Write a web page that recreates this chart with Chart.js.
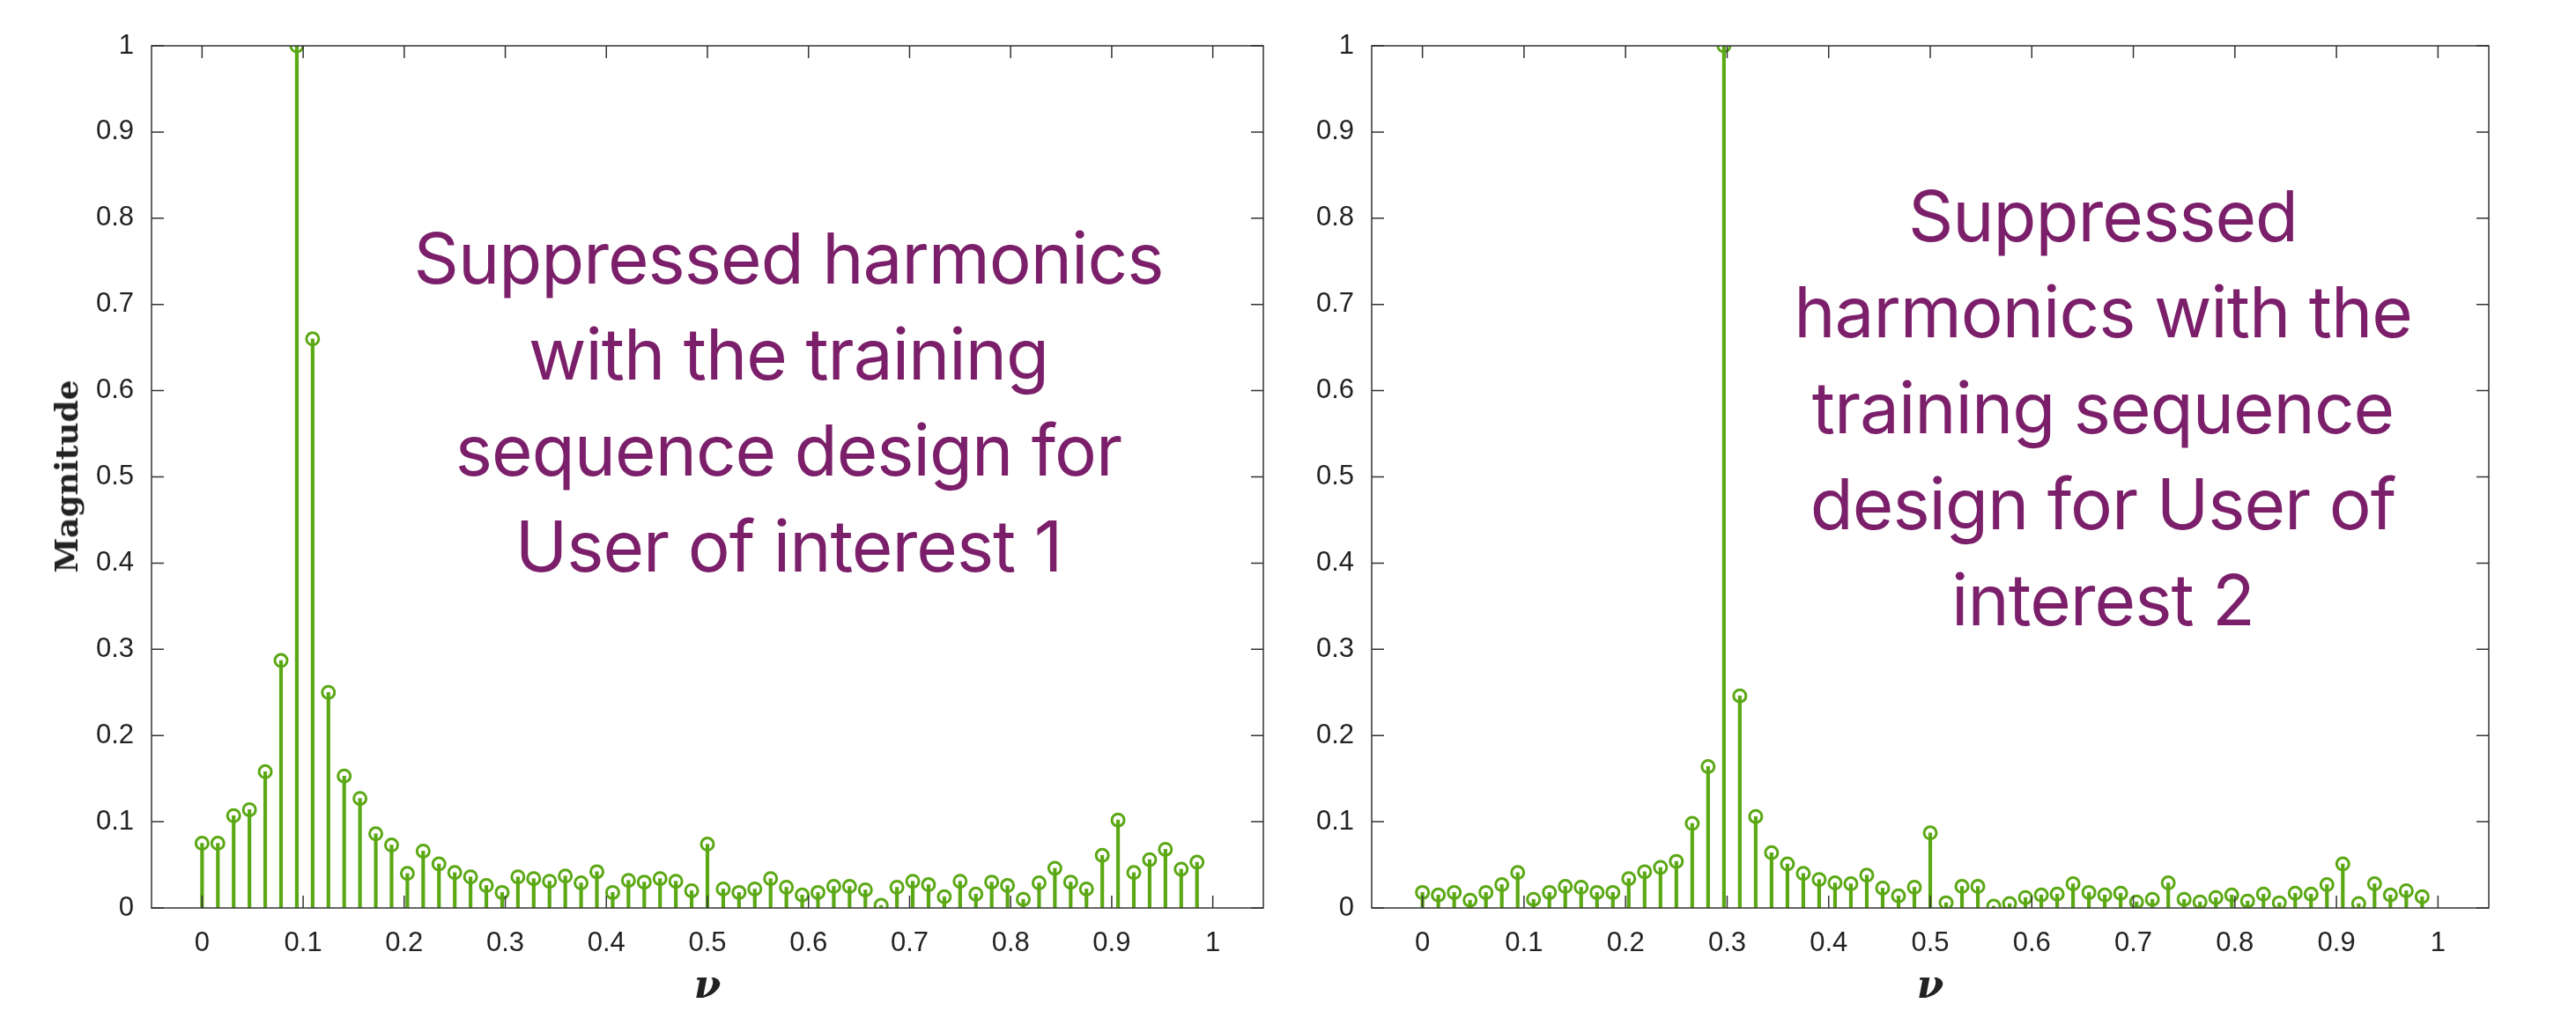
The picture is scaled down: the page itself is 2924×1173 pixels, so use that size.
<!DOCTYPE html>
<html><head><meta charset="utf-8">
<script src="https://cdn.jsdelivr.net/npm/chart.js@4"></script>
<style>
body{margin:0;background:#fff;width:2924px;height:1173px;overflow:hidden;position:relative;font-family:"Liberation Sans",Arial,sans-serif}
.box{position:absolute;top:0;height:1173px}
.note{position:absolute;color:#7B1F6A;font-family:Inter,"Noto Sans",sans-serif;font-size:80px;line-height:109px;text-align:center;white-space:nowrap;transform:translateX(-50%);letter-spacing:-1px}
.ylab{position:absolute;left:75px;top:541px;transform:translate(-50%,-50%) rotate(-90deg);font-family:"DejaVu Serif",serif;font-weight:bold;font-size:36px;color:#222}
.nu{position:absolute;top:1092px;font-family:"DejaVu Serif",serif;font-style:italic;font-weight:bold;font-size:44px;color:#222;transform:translateX(-50%)}
</style></head><body>
<div class="box" style="left:0;width:1470px"><canvas id="c1"></canvas></div>
<div class="box" style="left:1480px;width:1444px"><canvas id="c2"></canvas></div>
<div class="ylab">Magnitude</div>
<div class="nu" style="left:803px">ν</div>
<div class="nu" style="left:2191px">ν</div>
<div class="note" style="left:895px;top:238px">Suppressed harmonics<br>with the training<br>sequence design for<br>User of interest 1</div>
<div class="note" style="left:2387px;top:190px">Suppressed<br>harmonics with the<br>training sequence<br>design for User of<br>interest 2</div>
<script>
const N = 64;
const freqs = Array.from({length:N},(_, k)=>k/N);
const user1 = [0.075,0.075,0.107,0.114,0.158,0.287,1.0,0.66,0.25,0.153,0.127,0.086,0.073,0.04,0.066,0.051,
0.041,0.036,0.026,0.018,0.036,0.034,0.031,0.037,0.029,0.042,0.018,0.032,0.030,0.034,0.031,0.02,
0.074,0.022,0.018,0.022,0.034,0.024,0.015,0.018,0.025,0.025,0.021,0.003,0.024,0.031,0.027,0.013,
0.031,0.016,0.03,0.026,0.01,0.029,0.046,0.03,0.022,0.061,0.102,0.041,0.056,0.068,0.045,0.053];
const user2 = [0.018,0.015,0.018,0.009,0.018,0.027,0.041,0.01,0.018,0.025,0.024,0.018,0.018,0.034,0.042,0.047,
0.054,0.098,0.164,1.0,0.246,0.106,0.064,0.051,0.04,0.033,0.029,0.028,0.038,0.023,0.014,0.024,
0.087,0.006,0.025,0.025,0.002,0.005,0.012,0.015,0.016,0.028,0.018,0.015,0.017,0.007,0.01,0.029,
0.01,0.007,0.012,0.015,0.008,0.016,0.006,0.017,0.016,0.027,0.051,0.005,0.028,0.015,0.02,0.013];
const xTicks = [0,0.1,0.2,0.3,0.4,0.5,0.6,0.7,0.8,0.9,1];
const yTicks = [0,0.1,0.2,0.3,0.4,0.5,0.6,0.7,0.8,0.9,1];
const green = '#5BA815';
const fmt = v => (Math.abs(v-Math.round(v))<1e-9? String(Math.round(v)) : String(Math.round(v*10)/10));

const boxPlugin = {id:'box', afterDraw(ch){
  const {ctx, chartArea:a, scales:{x,y}} = ch;
  ctx.save(); ctx.strokeStyle='#333'; ctx.lineWidth=1.5;
  ctx.strokeRect(a.left,a.top,a.right-a.left,a.bottom-a.top);
  const L=14; ctx.beginPath();
  xTicks.forEach(t=>{const px=x.getPixelForValue(t);ctx.moveTo(px,a.bottom);ctx.lineTo(px,a.bottom-L);ctx.moveTo(px,a.top);ctx.lineTo(px,a.top+L);});
  yTicks.forEach(t=>{const py=y.getPixelForValue(t);ctx.moveTo(a.left,py);ctx.lineTo(a.left+L,py);ctx.moveTo(a.right,py);ctx.lineTo(a.right-L,py);});
  ctx.stroke(); ctx.restore();
}};

function make(id, vals, yw, rp){
  const pts = freqs.map((f,i)=>({x:f,y:vals[i]}));
  new Chart(document.getElementById(id),{
    type:'scatter',
    data:{datasets:[
      {type:'scatter',data:pts,pointRadius:7,pointBorderWidth:3,pointBorderColor:green,pointBackgroundColor:'rgba(255,255,255,0)',order:0},
      {type:'bar',data:pts,backgroundColor:green,barThickness:3.5,order:1}
    ]},
    options:{responsive:false,animation:false,devicePixelRatio:1,
      layout:{padding:{top:52,right:rp,left:0,bottom:0}},
      plugins:{legend:{display:false},tooltip:{enabled:false}},
      scales:{
        x:{type:'linear',min:0,max:1,grid:{display:false},border:{display:false},
          afterBuildTicks:s=>{s.ticks=xTicks.map(v=>({value:v}));},
          afterFit:s=>{s.height=142;},
          ticks:{color:'#222',font:{size:31,family:'"Liberation Sans",Arial'},padding:14,callback:fmt,maxRotation:0}},
        y:{min:0,max:1,grid:{display:false},border:{display:false},
          afterBuildTicks:s=>{s.ticks=yTicks.map(v=>({value:v}));},
          afterFit:s=>{s.width=yw;},
          ticks:{color:'#222',font:{size:31,family:'"Liberation Sans",Arial'},padding:12,callback:fmt}}
      }},
    plugins:[boxPlugin]
  });
}
const c1=document.getElementById('c1'); c1.width=1470; c1.height=1173;
const c2=document.getElementById('c2'); c2.width=1444; c2.height=1173;
make('c1', user1, 172, 36);
make('c2', user2, 77, 99);
</script></body></html>
